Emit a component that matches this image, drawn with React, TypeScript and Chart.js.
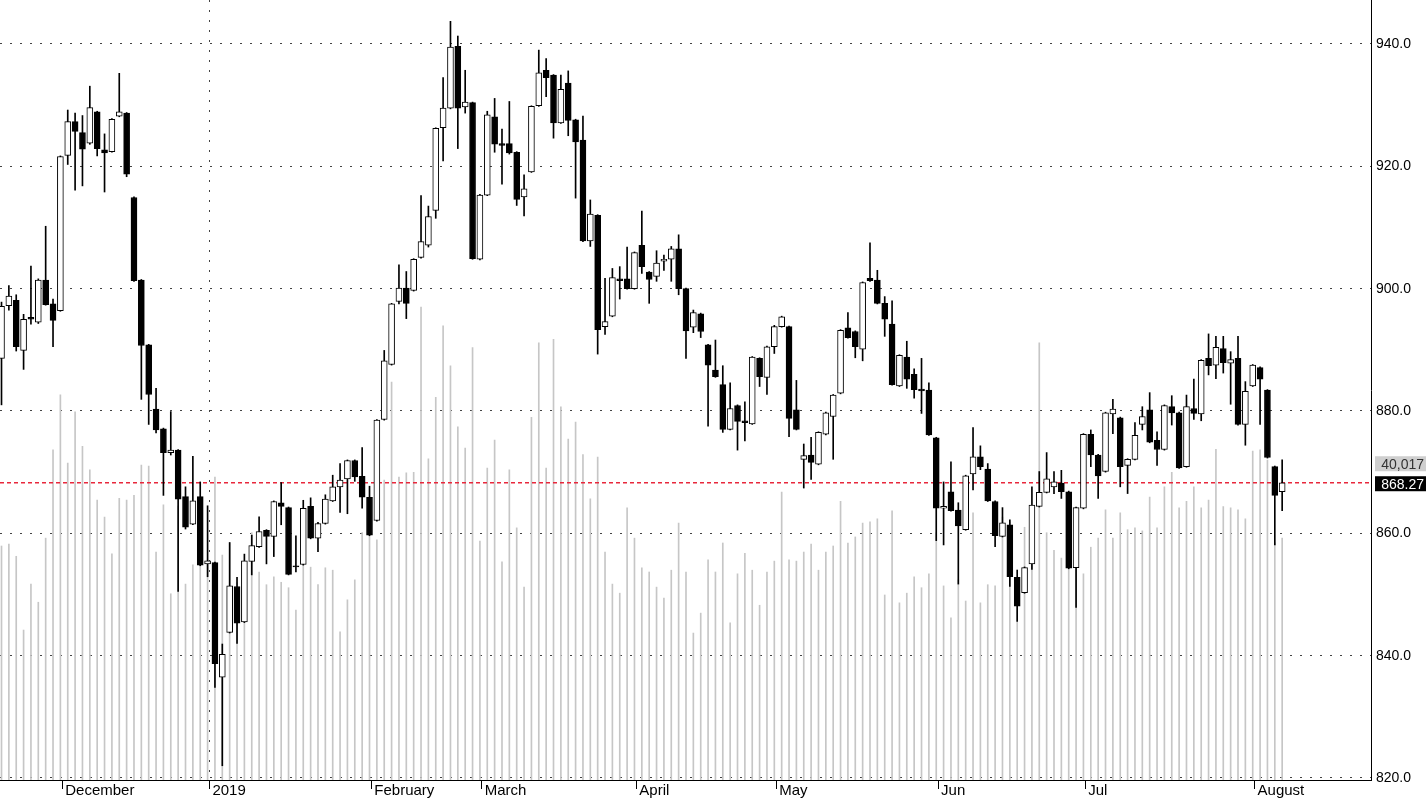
import React, { useEffect, useRef } from "react";
import { Chart, registerables } from "chart.js";

Chart.register(...registerables);

const opens = [
  888.6, 897.2, 898.1, 889.9, 895.3, 894.5, 901.4, 897.5, 896.4, 921.8,
  927.3, 925.5, 923.8, 928.9, 922.7, 922.4, 928.2, 928.7, 914.9, 901.4,
  890.8, 880.3, 877.1, 873.2, 873.6, 866.0, 861.5, 866.0, 855.0, 855.2,
  836.5, 843.8, 851.3, 845.5, 855.4, 857.8, 860.5, 859.5, 865.0, 864.2,
  854.7, 854.9, 864.4, 859.2, 861.6, 865.3, 867.6, 868.9, 871.9, 869.3,
  865.9, 862.1, 878.6, 887.6, 897.9, 900.1, 899.7, 905.1, 907.1, 912.8,
  926.3, 929.5, 939.6, 929.7, 930.4, 904.8, 915.3, 928.1, 923.7, 923.7,
  922.3, 915.0, 919.1, 929.9, 935.7, 934.9, 927.1, 933.6, 927.6, 924.3,
  907.8, 912.0, 893.8, 895.5, 901.6, 901.6, 900.0, 907.1, 902.7, 902.0,
  904.5, 904.8, 906.5, 900.0, 893.7, 895.9, 890.8, 886.7, 884.3, 877.0,
  880.9, 878.4, 877.9, 888.6, 885.5, 890.5, 893.8, 893.8, 880.2, 872.1,
  872.8, 871.3, 876.2, 879.1, 882.9, 893.6, 893.0, 890.1, 901.7, 901.4,
  897.6, 894.2, 884.1, 888.8, 886.0, 883.6, 883.4, 875.6, 864.1, 866.8,
  863.8, 860.6, 869.7, 872.5, 870.5, 865.2, 859.5, 861.4, 852.8, 850.3,
  855.0, 864.4, 866.7, 867.6, 868.2, 866.8, 854.4, 864.1, 876.2, 872.8,
  870.1, 879.5, 878.9, 871.1, 872.1, 877.8, 880.2, 875.2, 873.7, 880.7,
  879.7, 870.9, 880.4, 879.5, 888.6, 887.5, 890.2, 887.8, 888.6, 877.8,
  884.1, 887.1, 883.4, 870.9, 866.8,
];

const highs = [
  897.8, 900.5, 899.0, 895.8, 903.7, 901.6, 910.2, 898.3, 921.7, 929.2,
  928.7, 928.3, 933.1, 929.0, 925.3, 927.8, 935.2, 928.8, 915.0, 901.5,
  890.9, 883.7, 877.2, 879.9, 873.7, 867.6, 872.6, 868.4, 864.5, 855.3,
  841.9, 858.5, 852.8, 856.6, 859.7, 862.7, 860.6, 865.3, 868.3, 864.3,
  859.6, 865.4, 865.8, 861.8, 866.3, 869.5, 871.4, 872.0, 872.0, 874.0,
  867.7, 878.6, 889.9, 897.6, 903.9, 902.8, 904.9, 915.2, 913.5, 926.3,
  934.5, 943.7, 941.3, 935.7, 930.5, 915.4, 929.0, 931.1, 926.1, 930.6,
  922.4, 918.6, 929.9, 939.0, 937.6, 935.0, 934.9, 935.6, 927.7, 928.2,
  914.5, 912.1, 901.7, 903.3, 903.6, 906.8, 906.0, 912.7, 902.8, 906.2,
  905.5, 906.9, 908.8, 900.1, 896.5, 896.0, 890.9, 891.6, 887.4, 884.6,
  881.0, 881.5, 888.9, 888.7, 890.6, 894.0, 895.5, 893.9, 885.0, 874.6,
  875.7, 876.6, 879.8, 882.7, 893.3, 896.1, 893.1, 901.1, 907.5, 903.0,
  898.7, 898.0, 889.2, 891.4, 886.9, 888.6, 884.6, 875.7, 868.4, 871.7,
  865.0, 869.5, 877.3, 874.3, 871.4, 865.3, 864.2, 862.2, 854.0, 854.5,
  867.6, 870.1, 873.2, 870.1, 870.3, 866.9, 864.3, 876.3, 876.9, 872.9,
  879.8, 881.9, 879.0, 872.2, 878.1, 880.7, 883.0, 876.6, 881.0, 882.5,
  879.8, 882.6, 885.2, 888.4, 892.6, 892.2, 892.2, 889.7, 892.2, 884.8,
  887.6, 887.2, 883.5, 871.0, 872.0,
];

const lows = [
  881.0, 896.5, 889.8, 886.8, 894.2, 894.3, 897.3, 890.5, 896.3, 920.3,
  916.1, 916.8, 923.6, 921.7, 915.8, 922.3, 928.1, 918.3, 901.2, 881.9,
  877.8, 876.4, 866.2, 872.8, 850.5, 860.7, 861.4, 854.7, 852.9, 834.8,
  822.0, 843.7, 842.0, 845.4, 853.2, 857.7, 855.0, 856.2, 861.4, 853.2,
  853.7, 854.8, 859.1, 857.0, 861.5, 865.2, 863.4, 863.2, 868.5, 864.1,
  859.6, 862.0, 878.5, 887.5, 897.5, 895.1, 899.6, 905.0, 906.8, 911.5,
  920.9, 929.4, 922.9, 928.7, 904.8, 904.7, 915.2, 922.3, 917.1, 922.0,
  913.6, 911.9, 919.0, 929.8, 931.4, 924.6, 927.0, 925.0, 914.8, 907.7,
  906.9, 889.3, 892.5, 895.4, 898.3, 899.9, 899.9, 902.5, 897.6, 901.2,
  903.0, 901.2, 899.0, 888.6, 892.8, 892.0, 877.5, 885.5, 876.5, 876.9,
  873.6, 875.1, 877.8, 884.0, 882.7, 889.4, 893.7, 875.8, 876.9, 867.4,
  868.8, 871.2, 876.1, 872.1, 882.8, 891.9, 888.7, 888.2, 901.2, 897.5,
  892.2, 884.2, 884.0, 883.7, 882.1, 879.6, 876.0, 858.8, 858.1, 863.6,
  851.7, 860.5, 867.1, 870.4, 865.2, 857.8, 859.4, 851.3, 845.6, 850.2,
  854.1, 864.3, 866.6, 866.5, 865.7, 854.2, 847.9, 864.0, 870.9, 865.7,
  870.0, 876.3, 867.6, 866.5, 872.0, 876.9, 874.8, 871.1, 873.6, 877.7,
  870.6, 870.8, 878.6, 878.4, 885.9, 885.3, 886.2, 881.1, 877.7, 874.4,
  884.0, 877.8, 872.3, 858.1, 863.7,
];

const closes = [
  897.1, 898.8, 890.5, 895.0, 895.0, 901.4, 897.4, 894.8, 921.6, 927.3,
  925.7, 922.8, 929.6, 922.9, 922.2, 927.7, 928.9, 918.7, 901.3, 890.7,
  882.7, 876.9, 873.2, 873.6, 865.6, 861.0, 865.3, 854.8, 855.5, 838.7,
  840.2, 851.4, 845.3, 855.5, 858.0, 860.3, 859.5, 865.2, 864.4, 853.3,
  854.5, 864.1, 859.2, 861.6, 865.6, 867.6, 868.7, 871.9, 869.2, 865.9,
  859.7, 878.5, 888.2, 897.5, 900.1, 897.6, 904.8, 907.7, 911.8, 926.2,
  929.5, 939.5, 929.5, 930.5, 904.9, 915.3, 928.4, 923.6, 923.4, 922.2,
  914.6, 916.3, 929.8, 935.3, 934.5, 927.1, 932.6, 927.5, 924.0, 907.8,
  912.2, 893.3, 894.6, 901.8, 901.3, 900.0, 905.9, 903.6, 901.5, 904.2,
  904.8, 906.5, 900.0, 893.1, 896.1, 893.0, 887.5, 885.6, 877.0, 880.4,
  878.3, 878.1, 888.8, 885.6, 890.5, 893.8, 895.4, 878.8, 877.0, 872.7,
  871.6, 876.5, 879.7, 882.6, 893.2, 892.0, 890.5, 901.0, 901.3, 897.6,
  895.0, 884.3, 889.1, 885.2, 883.5, 883.3, 876.1, 864.1, 864.4, 863.7,
  861.2, 869.4, 872.5, 870.9, 865.3, 859.6, 861.7, 852.9, 848.1, 854.4,
  864.6, 866.7, 868.9, 868.4, 866.8, 854.3, 864.2, 876.2, 872.8, 869.4,
  879.7, 880.3, 870.9, 872.1, 876.0, 879.1, 874.9, 873.7, 880.9, 879.7,
  870.7, 880.7, 879.6, 888.3, 887.4, 890.4, 887.9, 888.4, 877.8, 883.2,
  887.5, 885.2, 872.4, 866.2, 868.27,
];

const volumes = [
  38700, 39000, 37000, 24800, 32400, 29400, 40000, 54600, 63700, 52400,
  60900, 55200, 51300, 46300, 43500, 37400, 46600, 46300, 47100, 52100,
  51900, 37700, 45500, 30800, 45300, 32400, 35600, 35900, 36400, 50100,
  37200, 39200, 32600, 35200, 40900, 34400, 32300, 33600, 32700, 31800,
  28100, 35900, 35200, 32300, 35100, 34700, 24500, 29800, 33100, 40900,
  43000, 39700, 49600, 65800, 50100, 50800, 50900, 78200, 53100, 63300,
  75100, 68500, 58400, 54900, 71500, 39500, 51600, 56200, 36100, 51300,
  41700, 31900, 60000, 72300, 51600, 72900, 61700, 56400, 59200, 53800,
  46500, 53400, 37700, 32400, 30900, 45000, 40000, 35100, 34400, 31900,
  30100, 34700, 42500, 34400, 24300, 27600, 36400, 34400, 39200, 26000,
  34100, 37500, 34700, 28900, 34400, 36200, 47600, 36400, 36200, 37700,
  39000, 34700, 37700, 38700, 46100, 39200, 40200, 42500, 42700, 43200,
  30600, 44500, 29300, 30900, 33600, 31800, 34100, 40900, 32100, 26800,
  33100, 29600, 44200, 29300, 32300, 32100, 43500, 42700, 30900, 41800,
  42700, 72300, 40900, 38000, 36700, 43500, 42500, 34100, 38500, 40000,
  44700, 40000, 44200, 41400, 41700, 41200, 46800, 41700, 48500, 50900,
  45000, 46100, 48500, 45000, 46300, 54700, 45200, 45000, 44700, 43200,
  54400, 54600, 52900, 39200, 40017,
];

// first trading session of each month (index into the series) and its label
const monthTickIndex = [8, 28, 50, 65, 86, 105, 127, 147, 170];
const monthTickLabels = ["December", "2019", "February", "March", "April", "May", "Jun", "Jul", "August"];
const yearBoundaryIndex = 28;
const priceTicks = [820, 840, 860, 880, 900, 920, 940];

const FONT = '"Liberation Sans", Arial, Helvetica, sans-serif';
const TICK_SHIFT = 0.25;

export default function App() {
  const canvasRef = useRef<HTMLCanvasElement | null>(null);

  useEffect(() => {
    document.body.style.margin = "0";
    const canvas = canvasRef.current;
    if (!canvas) return;

    const n = closes.length;
    const idx = Array.from({ length: n }, (_, i) => i);
    const lastClose = closes[n - 1];
    const lastVol = volumes[n - 1];
    const xMin = -0.204;
    const xMax = 186.07;

    const bodies = idx.map((i) => {
      let lo = Math.min(opens[i], closes[i]);
      let hi = Math.max(opens[i], closes[i]);
      if (hi - lo < 0.2) {
        const m = (hi + lo) / 2;
        lo = m - 0.1;
        hi = m + 0.1;
      }
      return { x: i, y: [lo, hi] };
    });
    const bodyColors = idx.map((i) => (closes[i] >= opens[i] ? "#ffffff" : "#000000"));

    const lastLabels = {
      id: "lastLabels",
      afterDraw(chart: any) {
        const { ctx } = chart;
        const yPix = chart.scales.y.getPixelForValue(lastClose);
        const x0 = chart.chartArea.right + 4;
        const x1 = chart.width;
        ctx.save();
        ctx.font = `14px ${FONT}`;
        ctx.textBaseline = "middle";
        ctx.textAlign = "right";
        const h = 15;
        const pc = yPix + 1;
        ctx.fillStyle = "#000000";
        ctx.fillRect(x0, pc - h / 2, x1 - x0, h);
        ctx.fillStyle = "#ffffff";
        ctx.fillText(lastClose.toFixed(2), x1 - 2, pc + 1);
        const vc = pc - h - 5;
        ctx.fillStyle = "#cfcfcf";
        ctx.fillRect(x0, vc - h / 2, x1 - x0, h);
        ctx.fillStyle = "#333333";
        ctx.fillText(lastVol.toLocaleString("en-US"), x1 - 2, vc + 1);
        ctx.restore();
      },
    };

    const chart = new Chart(canvas, {
      type: "bar",
      data: {
        datasets: [
          {
            type: "bar",
            label: "Volume",
            data: idx.map((i) => ({ x: i, y: volumes[i] })),
            yAxisID: "yVol",
            backgroundColor: "#c6c6c6",
            borderWidth: 0,
            barThickness: 1,
            grouped: false,
            order: 5,
          } as any,
          {
            type: "line",
            label: "Last",
            data: [
              { x: xMin, y: lastClose },
              { x: xMax, y: lastClose },
            ],
            yAxisID: "y",
            borderColor: "#e8283c",
            borderWidth: 1.5,
            borderDash: [4, 3],
            pointRadius: 0,
            order: 4,
          } as any,
          {
            type: "bar",
            label: "Wick",
            data: idx.map((i) => ({ x: i, y: [lows[i], highs[i]] })),
            yAxisID: "y",
            backgroundColor: "#000000",
            borderWidth: 0,
            barThickness: 1,
            grouped: false,
            order: 3,
          } as any,
          {
            type: "bar",
            label: "Body",
            data: bodies,
            yAxisID: "y",
            backgroundColor: bodyColors,
            borderColor: "#000000",
            borderWidth: 1,
            borderSkipped: false,
            barThickness: 6,
            grouped: false,
            order: 2,
          } as any,
        ],
      },
      options: {
        responsive: false,
        animation: false,
        devicePixelRatio: 1,
        events: [],
        layout: { padding: 0 },
        plugins: {
          legend: { display: false },
          tooltip: { enabled: false },
        },
        scales: {
          x: {
            type: "linear",
            position: "bottom",
            min: xMin,
            max: xMax,
            offset: false,
            afterBuildTicks: (s: any) => {
              s.ticks = monthTickIndex.map((v) => ({ value: v + TICK_SHIFT }));
            },
            afterFit: (s: any) => {
              s.height = 21;
              s.paddingLeft = 0;
              s.paddingRight = 0;
            },
            ticks: {
              autoSkip: false,
              maxRotation: 0,
              minRotation: 0,
              align: "start",
              labelOffset: 3,
              padding: -7,
              color: "#000000",
              font: { family: FONT, size: 15 },
              callback: (v: any) => {
                const k = monthTickIndex.indexOf(Math.round(Number(v) - TICK_SHIFT));
                return k >= 0 ? monthTickLabels[k] : "";
              },
            },
            grid: {
              offset: false,
              drawOnChartArea: true,
              drawTicks: true,
              tickLength: 9,
              tickColor: "#000000",
              tickWidth: 1,
              lineWidth: 1,
              color: (c: any) =>
                c.tick && Math.round(c.tick.value - TICK_SHIFT) === yearBoundaryIndex
                  ? "#444444"
                  : "rgba(0,0,0,0)",
            },
            border: { display: true, color: "#000000", width: 1, dash: [2, 8] },
          },
          y: {
            type: "linear",
            position: "right",
            min: 819.67,
            max: 947.19,
            afterBuildTicks: (s: any) => {
              s.ticks = priceTicks.map((v) => ({ value: v }));
            },
            afterFit: (s: any) => {
              s.width = 55;
              s.paddingTop = 0;
              s.paddingBottom = 0;
            },
            ticks: {
              padding: 5,
              color: "#000000",
              font: { family: FONT, size: 14 },
              callback: (v: any) => Number(v).toFixed(1),
            },
            grid: { drawTicks: false, color: "#444444", lineWidth: 1 },
            border: { display: true, color: "#000000", width: 1, dash: [2, 8] },
          },
          yVol: {
            type: "linear",
            display: false,
            min: 0,
            max: 129000,
            grid: { display: false },
          },
        },
      } as any,
      plugins: [lastLabels],
    });

    return () => {
      chart.destroy();
    };
  }, []);

  return (
    <div style={{ position: "absolute", left: 0, top: 0, width: 1426, height: 801, background: "#ffffff" }}>
      <canvas ref={canvasRef} width={1426} height={801} style={{ display: "block" }} />
    </div>
  );
}
